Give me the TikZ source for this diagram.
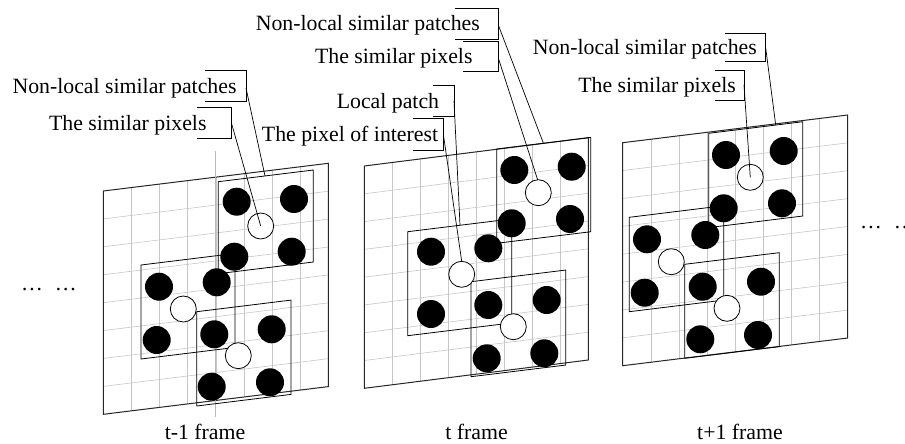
\documentclass[tikz,border=0pt]{standalone}
\usepackage{fontspec}
\setmainfont{Liberation Serif}
\begin{document}
\begin{tikzpicture}[x=1pt,y=-1pt,
  gridline/.style={draw=black!22, line width=0.6pt},
  frameline/.style={draw=black!85, line width=1pt},
  patchline/.style={draw=black, line width=0.8pt},
  blackdot/.style={fill=black},
  whitedot/.style={fill=white, draw=black, line width=0.8pt},
  leader/.style={draw=black, line width=0.7pt},
  bracket/.style={draw=black, line width=0.9pt},
  strayline/.style={draw=black!28, line width=0.8pt},
  lbl/.style={font=\fontsize{21.8}{26}\selectfont, inner sep=0pt},
]
\useasboundingbox (0,0) rectangle (905,444);
% frame: left, top-left y, width, height, slope
\newcommand\myframe[5]{%
  \fill[white] (#1,#2) -- ++(#3,-#5*#3) -- ++(0,#4) -- ++(-#3,#5*#3) -- cycle;
  \foreach \i in {1,...,7}{
    \draw[gridline] (#1+\i*#3/8,#2-#5*\i*#3/8) -- ++(0,#4);
    \draw[gridline] (#1,#2+\i*#4/8) -- ++(#3,-#5*#3);
  }
  \draw[frameline] (#1,#2) -- ++(#3,-#5*#3) -- ++(0,#4) -- ++(-#3,#5*#3) -- cycle;
}
% patch: left, top-left y, width, height
\newcommand\mypatch[4]{%
  \draw[patchline] (#1,#2) -- ++(#3,-0.123*#3) -- ++(0,#4) -- ++(-#3,0.123*#3) -- cycle;
}
\newcommand\bdots[1]{\foreach \p in {#1}{\fill[blackdot] \p circle (14pt);}}
\newcommand\wdots[1]{\foreach \p in {#1}{\draw[whitedot] \p circle (13pt);}}

% ---------- frame t-1 ----------
\myframe{103.3}{191}{225}{223.3}{0.1231}
\coordinate (strayT) at (215.7,151);
\coordinate (strayB) at (215.7,417);
\draw[strayline] (strayT) -- (strayB);
\mypatch{218.3}{181.7}{95}{92}
\mypatch{141}{265}{94}{94}
\mypatch{196.7}{311.7}{94.3}{94.3}
\bdots{(236.7,201.7),(294,199),(234.3,256.7),(291.7,251.7),(159,286.7),(216.7,282.3),(156.7,340),(214.3,334.3),(271.7,329.3),(211.7,386.7),(270,382.3)}
\wdots{(260.7,226),(183.3,309),(238.3,355.7)}

% ---------- frame t ----------
\myframe{364.3}{166}{224}{222.3}{0.1263}
\mypatch{496.7}{149}{94}{94.3}
\mypatch{407.7}{231.7}{104}{104}
\mypatch{471}{281.7}{94.7}{95}
\bdots{(514.3,170),(571.7,166.7),(511.7,223.3),(570,219),(431,251.7),(488.3,248.3),(431,314),(488.3,305),(546.7,300),(486.7,358.3),(544.3,353.3)}
\wdots{(538.3,192.7),(461.7,274.3),(513.3,326.7)}

% ---------- frame t+1 ----------
\myframe{622.7}{142.7}{225}{223}{0.1231}
\mypatch{708.7}{133.3}{94}{94.3}
\mypatch{629.3}{217.3}{94.4}{94.4}
\mypatch{684.7}{264.3}{94.6}{94}
\bdots{(726,155),(783.7,151),(723.7,208.3),(782,203.3),(647,239.3),(705.3,235),(644.7,292.7),(702.7,286.7),(761,281.7),(700.3,339.3),(758,335)}
\wdots{(750.3,177.3),(671.3,261.7),(727,308.3)}

% ---------- labels frame t-1 ----------
\node[lbl, anchor=base east] (nlA) at (236.7,93.4) {Non-local similar patches};
\draw[bracket] (205,70.7) -- (246,70.7) -- (246,101.7) -- (205,101.7);
\coordinate (nlAs) at (246,88);
\coordinate (nlAe) at (265,176);
\draw[leader] (nlAs) -- (nlAe);
\node[lbl, anchor=base east] (spA) at (206.7,130.2) {The similar pixels};
\draw[bracket] (197.3,107.7) -- (231.7,107.7) -- (231.7,138.3) -- (197.3,138.3);
\coordinate (spAs) at (231.7,124);
\coordinate (spAe) at (260.7,226);
\draw[leader] (spAs) -- (spAe);

% ---------- labels frame t ----------
\node[lbl, anchor=base east] (nlB) at (480,31) {Non-local similar patches};
\draw[bracket] (455,8.3) -- (498.3,8.3) -- (498.3,39.3) -- (455,39.3);
\coordinate (nlBs) at (498.3,25);
\coordinate (nlBe) at (543.3,143);
\draw[leader] (nlBs) -- (nlBe);
\node[lbl, anchor=base east] (spB) at (472.7,63.9) {The similar pixels};
\draw[bracket] (463.3,41.7) -- (498.3,41.7) -- (498.3,71.7) -- (463.3,71.7);
\coordinate (spBs) at (498.3,58);
\coordinate (spBe) at (537.7,180);
\draw[leader] (spBs) -- (spBe);
\node[lbl, anchor=base east] (lpB) at (439.3,108) {Local patch};
\draw[bracket] (432.7,85) -- (454,85) -- (454,116.7) -- (432.7,116.7);
\coordinate (lpBs) at (454,101);
\coordinate (lpBe) at (460,225);
\draw[leader] (lpBs) -- (lpBe);
\node[lbl, anchor=base east] (piB) at (438.3,141.4) {The pixel of interest};
\draw[bracket] (412.7,118.3) -- (443.3,118.3) -- (443.3,150) -- (412.7,150);
\coordinate (piBs) at (443.3,134);
\coordinate (piBe) at (461.7,261.3);
\draw[leader] (piBs) -- (piBe);

% ---------- labels frame t+1 ----------
\node[lbl, anchor=base east] (nlC) at (757,54.7) {Non-local similar patches};
\draw[bracket] (725,33.3) -- (765.7,33.3) -- (765.7,61.7) -- (725,61.7);
\coordinate (nlCs) at (765.7,48);
\coordinate (nlCe) at (775.7,125);
\draw[leader] (nlCs) -- (nlCe);
\node[lbl, anchor=base east] (spC) at (736,92.2) {The similar pixels};
\draw[bracket] (715,70) -- (744,70) -- (744,100) -- (715,100);
\coordinate (spCs) at (744,85);
\coordinate (spCe) at (750.3,177.3);
\draw[leader] (spCs) -- (spCe);

% ---------- dots and captions ----------
\node[lbl, anchor=base west] (dotsL) at (21,290) {\ldots\hspace{12pt}\ldots};
\node[lbl, anchor=base west] (dotsR) at (860,228) {\ldots\hspace{12pt}\ldots};
\node[lbl, anchor=base] (capA) at (205,439.3) {t-1 frame};
\node[lbl, anchor=base] (capB) at (476.5,439.3) {t frame};
\node[lbl, anchor=base] (capC) at (740,439.3) {t+1 frame};
\end{tikzpicture}
\end{document}
